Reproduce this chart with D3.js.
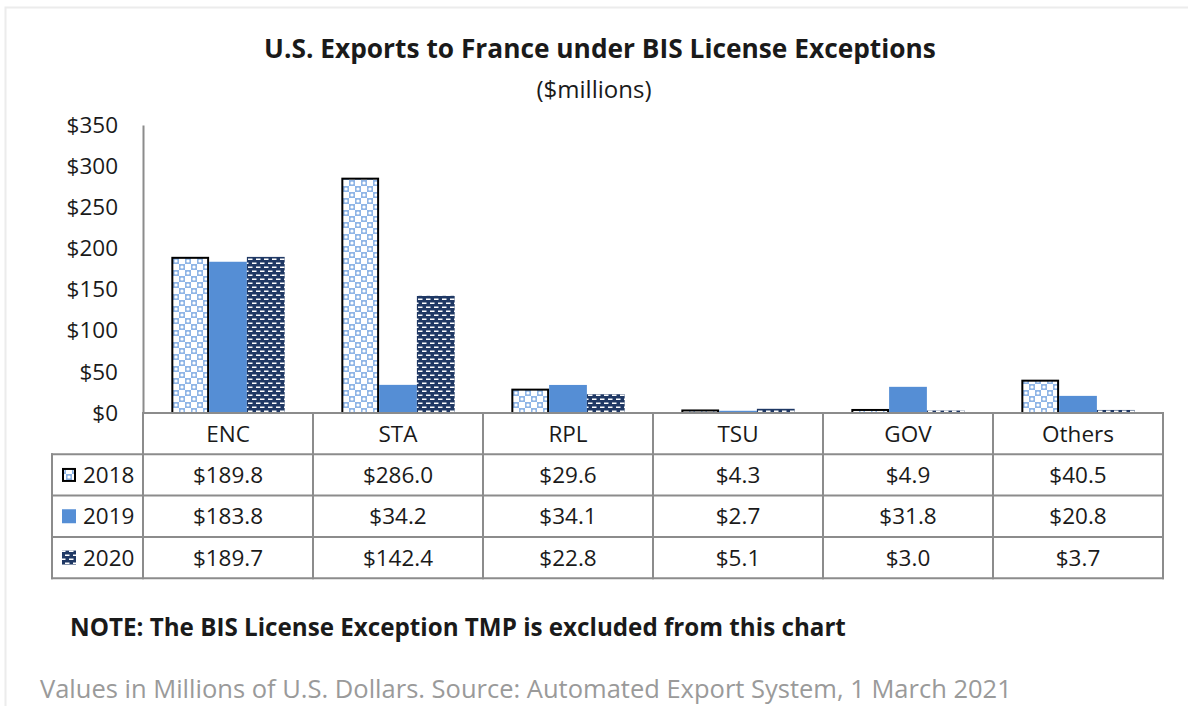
<!DOCTYPE html>
<html>
<head>
<meta charset="utf-8">
<script src="https://cdn.jsdelivr.net/npm/d3@7"></script>
<style>
  body { margin: 0; background: #fff; }
  text { font-family: "Open Sans", Lato, sans-serif; fill: #1a1a1a; }
</style>
</head>
<body>
<div id="mount"></div>
<script>
// chart data
var categories = ['ENC', 'STA', 'RPL', 'TSU', 'GOV', 'Others'];
var years = ['2018', '2019', '2020'];
var values2018 = [189.8, 286.0, 29.6, 4.3, 4.9, 40.5];
var values2019 = [183.8, 34.2, 34.1, 2.7, 31.8, 20.8];
var values2020 = [189.7, 142.4, 22.8, 5.1, 3.0, 3.7];
var yTicks = [0, 50, 100, 150, 200, 250, 300, 350];

var seriesValues = [values2018, values2019, values2020];

var width = 1188, height = 706;
var plot = { left: 143, right: 1163, top: 125, bottom: 413 };
var rowH = 41.3;

var svg = d3.select('#mount').append('svg')
    .attr('width', width)
    .attr('height', height);

// fill patterns for 2018 and 2020
var defs = svg.append('defs');
var p18 = defs.append('pattern')
    .attr('id', 'p2018')
    .attr('patternUnits', 'userSpaceOnUse')
    .attr('width', 12).attr('height', 12);
p18.append('rect').attr('width', 12).attr('height', 12).attr('fill', '#ffffff');
p18.append('rect').attr('x', 0).attr('y', 0).attr('width', 6).attr('height', 6).attr('fill', '#8fb5e6');
p18.append('rect').attr('x', 6).attr('y', 6).attr('width', 6).attr('height', 6).attr('fill', '#8fb5e6');
p18.append('circle').attr('cx', 3).attr('cy', 3).attr('r', 1.6).attr('fill', '#ffffff');
p18.append('circle').attr('cx', 9).attr('cy', 9).attr('r', 1.6).attr('fill', '#ffffff');

var p20 = defs.append('pattern')
    .attr('id', 'p2020')
    .attr('patternUnits', 'userSpaceOnUse')
    .attr('width', 8).attr('height', 8);
p20.append('rect').attr('width', 8).attr('height', 8).attr('fill', '#1f3864');
p20.append('rect').attr('x', 1).attr('y', 2.5).attr('width', 4.5).attr('height', 1.5).attr('fill', '#ffffff');
p20.append('rect').attr('x', 5).attr('y', 6.5).attr('width', 4.5).attr('height', 1.5).attr('fill', '#ffffff');
p20.append('rect').attr('x', -3).attr('y', 6.5).attr('width', 4.5).attr('height', 1.5).attr('fill', '#ffffff');

var fills = ['url(#p2018)', '#558ed5', 'url(#p2020)'];
var strokes = ['#000000', 'none', 'none'];

// faint outer frame
svg.append('rect')
    .attr('x', 5.5).attr('y', 7.5)
    .attr('width', 1200).attr('height', 720)
    .attr('fill', 'none')
    .attr('stroke', '#ececec')
    .attr('stroke-width', 2);

// titles
svg.append('text')
    .attr('x', 600).attr('y', 58)
    .attr('text-anchor', 'middle')
    .style('font-size', '26.3px')
    .style('font-weight', 'bold')
    .text('U.S. Exports to France under BIS License Exceptions');

svg.append('text')
    .attr('x', 594).attr('y', 98)
    .attr('text-anchor', 'middle')
    .style('font-size', '24px')
    .text('($millions)');

// scales
var x0 = d3.scaleBand()
    .domain(categories)
    .range([plot.left, plot.right])
    .padding(0);

var x1 = d3.scaleBand()
    .domain(years)
    .range([0, x0.bandwidth()])
    .paddingInner(0)
    .paddingOuter(0.75);

var y = d3.scaleLinear()
    .domain([0, 350])
    .range([plot.bottom, plot.top]);

// y axis
var yAxis = d3.axisLeft(y)
    .tickValues(yTicks)
    .tickSize(0)
    .tickPadding(25)
    .tickFormat(d => '$' + d);

var yg = svg.append('g')
    .attr('transform', `translate(${plot.left},0)`)
    .call(yAxis);
yg.select('.domain').attr('stroke', '#8c8c8c').attr('stroke-width', 2);
yg.selectAll('.tick text')
    .style('font-size', '22.5px')
    .style('font-family', '"Open Sans", sans-serif')
    .attr('fill', '#1a1a1a');

// bars
var groups = svg.selectAll('.group')
    .data(categories)
  .enter().append('g')
    .attr('class', 'group')
    .attr('transform', d => `translate(${x0(d)},0)`);

groups.selectAll('rect')
    .data((d, i) => years.map((yr, s) => ({ year: yr, s: s, value: seriesValues[s][i] })))
  .enter().append('rect')
    .attr('x', d => x1(d.year) + (d.s === 0 ? 1 : 0))
    .attr('width', d => x1.bandwidth() - (d.s === 0 ? 2 : 0))
    .attr('y', d => y(d.value) + (d.s === 0 ? 1 : 0))
    .attr('height', d => Math.max(0, plot.bottom - y(d.value) - (d.s === 0 ? 1 : 0)))
    .attr('fill', d => fills[d.s])
    .attr('stroke', d => strokes[d.s])
    .attr('stroke-width', 2);

// data table
var table = svg.append('g').attr('class', 'table');
var lineColor = '#8c8c8c';
var legendLeft = 52;
var rowTops = [plot.bottom, plot.bottom + rowH, plot.bottom + 2 * rowH, plot.bottom + 3 * rowH];
var tableBottom = plot.bottom + 4 * rowH;

// horizontal lines
table.append('line')
    .attr('x1', plot.left).attr('x2', plot.right)
    .attr('y1', rowTops[0]).attr('y2', rowTops[0]);
[rowTops[1], rowTops[2], rowTops[3], tableBottom].forEach(yy => {
  table.append('line')
      .attr('x1', legendLeft).attr('x2', plot.right)
      .attr('y1', yy).attr('y2', yy);
});
// vertical lines
table.append('line')
    .attr('x1', legendLeft).attr('x2', legendLeft)
    .attr('y1', rowTops[1]).attr('y2', tableBottom);
categories.forEach(c => {
  table.append('line')
      .attr('x1', x0(c)).attr('x2', x0(c))
      .attr('y1', rowTops[0]).attr('y2', tableBottom);
});
table.append('line')
    .attr('x1', plot.right).attr('x2', plot.right)
    .attr('y1', rowTops[0]).attr('y2', tableBottom);
table.selectAll('line')
    .attr('stroke', lineColor)
    .attr('stroke-width', 2)
    .attr('stroke-linecap', 'square');

// category headers
table.selectAll('.cat')
    .data(categories)
  .enter().append('text')
    .attr('class', 'cat')
    .attr('x', d => x0(d) + x0.bandwidth() / 2)
    .attr('y', rowTops[0] + rowH / 2 + 8)
    .attr('text-anchor', 'middle')
    .style('font-size', '22.5px')
    .text(d => d);

// value rows
years.forEach((yr, s) => {
  var top = rowTops[s + 1];
  table.selectAll('.val' + yr)
      .data(seriesValues[s])
    .enter().append('text')
      .attr('class', 'val' + yr)
      .attr('x', (d, i) => x0(categories[i]) + x0.bandwidth() / 2)
      .attr('y', top + rowH / 2 + 8)
      .attr('text-anchor', 'middle')
      .style('font-size', '22.5px')
      .text(d => '$' + d.toFixed(1));

  // legend key
  table.append('rect')
      .attr('x', 62 + (s === 0 ? 1 : 0))
      .attr('y', top + rowH / 2 - 7 + (s === 0 ? 1 : 0))
      .attr('width', 14 - (s === 0 ? 2 : 0))
      .attr('height', 14 - (s === 0 ? 2 : 0))
      .attr('fill', fills[s])
      .attr('stroke', strokes[s])
      .attr('stroke-width', 2);
  table.append('text')
      .attr('x', 83)
      .attr('y', top + rowH / 2 + 8)
      .style('font-size', '22.5px')
      .text(yr);
});

// notes
svg.append('text')
    .attr('x', 70).attr('y', 636)
    .style('font-size', '24.2px')
    .style('font-weight', 'bold')
    .attr('fill', '#000')
    .text('NOTE: The BIS License Exception TMP is excluded from this chart');

svg.append('text')
    .attr('x', 40).attr('y', 698)
    .style('font-size', '25.5px')
    .style('fill', '#9a9a9a')
    .text('Values in Millions of U.S. Dollars. Source: Automated Export System, 1 March 2021');
</script>
</body>
</html>
